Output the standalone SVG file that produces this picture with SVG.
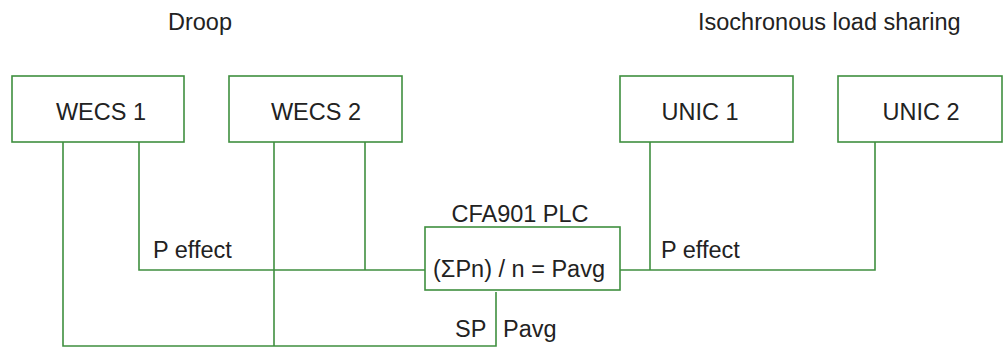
<svg xmlns="http://www.w3.org/2000/svg" width="1004" height="349" viewBox="0 0 1004 349">
  <style>
    .box { fill: #ffffff; stroke: #3f8f3f; stroke-width: 1.6; }
    .wire { fill: none; stroke: #3f8f3f; stroke-width: 1.6; }
    text { font-family: "Liberation Sans", Arial, sans-serif; font-size: 23.5px; fill: #222222; }
    .mid { text-anchor: middle; }
  </style>
  <rect width="1004" height="349" fill="#ffffff"/>

  <!-- section titles -->
  <text x="168" y="30">Droop</text>
  <text x="698" y="30">Isochronous load sharing</text>

  <!-- connectors -->
  <g id="connectors">
    <!-- droop side: power feedback into the PLC -->
    <polyline class="wire" points="139,142 139,270 425,270"/>
    <line class="wire" x1="365" y1="142" x2="365" y2="270"/>
    <!-- droop side: setpoint back from the PLC -->
    <polyline class="wire" points="63,142 63,346 496,346 496,292"/>
    <line class="wire" x1="274" y1="142" x2="274" y2="346"/>
    <!-- isochronous side -->
    <polyline class="wire" points="620,270 875,270 875,142"/>
    <line class="wire" x1="650" y1="142" x2="650" y2="270"/>
  </g>

  <g id="wecs1">
    <rect class="box" x="12" y="76" width="172" height="66"/>
    <text class="mid" x="101" y="120">WECS 1</text>
  </g>
  <g id="wecs2">
    <rect class="box" x="229" y="76" width="173" height="66"/>
    <text class="mid" x="316" y="120">WECS 2</text>
  </g>
  <g id="unic1">
    <rect class="box" x="620" y="76" width="173" height="66"/>
    <text class="mid" x="700" y="120">UNIC 1</text>
  </g>
  <g id="unic2">
    <rect class="box" x="838" y="76" width="164" height="66"/>
    <text class="mid" x="921" y="120">UNIC 2</text>
  </g>
  <g id="plc">
    <text class="mid" x="520" y="222">CFA901 PLC</text>
    <rect class="box" x="425" y="227" width="195" height="63"/>
    <text class="mid" x="519" y="277">(ΣPn) / n = Pavg</text>
  </g>

  <!-- signal labels -->
  <text x="153" y="258">P effect</text>
  <text x="661" y="258">P effect</text>
  <text x="455" y="337">SP</text>
  <text x="503" y="337">Pavg</text>
</svg>
